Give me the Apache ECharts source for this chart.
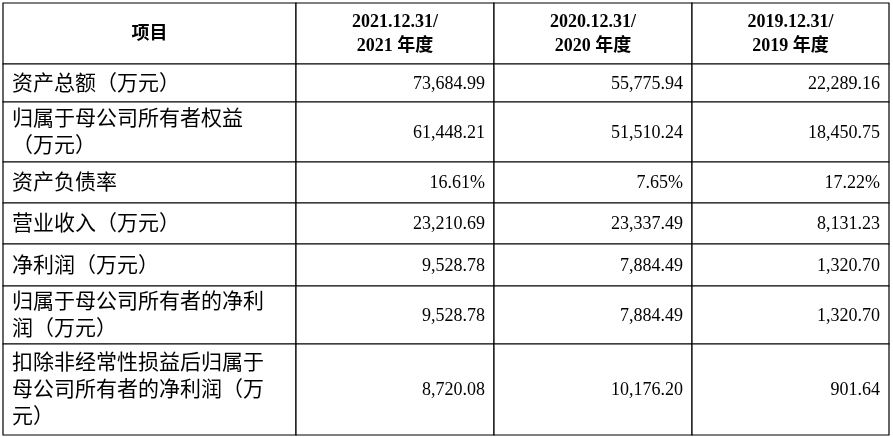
<!DOCTYPE html>
<html><head><meta charset="utf-8">
<script src="https://cdn.jsdelivr.net/npm/echarts@6/dist/echarts.min.js"></script>
<style>html,body{margin:0;padding:0;background:#fff}#c{width:893px;height:437px}</style>
</head><body><div id="c"></div>
<script>
const headers = ["项目", "2021.12.31/\n2021 年度", "2020.12.31/\n2020 年度", "2019.12.31/\n2019 年度"];
const rowLabels = [
  "资产总额（万元）",
  "归属于母公司所有者权益\n（万元）",
  "资产负债率",
  "营业收入（万元）",
  "净利润（万元）",
  "归属于母公司所有者的净利\n润（万元）",
  "扣除非经常性损益后归属于\n母公司所有者的净利润（万\n元）"
];
const v2021 = ["73,684.99", "61,448.21", "16.61%", "23,210.69", "9,528.78", "9,528.78", "8,720.08"];
const v2020 = ["55,775.94", "51,510.24", "7.65%", "23,337.49", "7,884.49", "7,884.49", "10,176.20"];
const v2019 = ["22,289.16", "18,450.75", "17.22%", "8,131.23", "1,320.70", "1,320.70", "901.64"];

// layout (not data)
const colEdges = [3, 296, 494, 692, 889];
const rowEdges = [3, 64, 102, 162, 203, 244, 286, 344, 435];

const cells = [];
headers.forEach((h, c) => cells.push([c, 0, h, 1]));
rowLabels.forEach((l, r) => {
  cells.push([0, r + 1, l, 0]);
  cells.push([1, r + 1, v2021[r], 0]);
  cells.push([2, r + 1, v2020[r], 0]);
  cells.push([3, r + 1, v2019[r], 0]);
});

const chart = echarts.init(document.getElementById('c'), null, {renderer: 'canvas'});
chart.setOption({
  animation: false,
  grid: {left: 0, right: 0, top: 0, bottom: 0},
  xAxis: {type: 'value', min: 0, max: 893, show: false},
  yAxis: {type: 'value', min: 0, max: 437, inverse: true, show: false},
  series: [{
    type: 'custom',
    coordinateSystem: 'cartesian2d',
    data: cells,
    encode: {x: 0, y: 1},
    renderItem: function (params, api) {
      const c = api.value(0), r = api.value(1);
      const d = cells[params.dataIndex];
      const p0 = api.coord([colEdges[c], rowEdges[r]]);
      const p1 = api.coord([colEdges[c + 1], rowEdges[r + 1]]);
      const header = d[3] === 1;
      const isNum = c > 0 && !header;
      let font, lh;
      if (header) { font = 'bold 18px "Liberation Serif", "Noto Sans CJK SC", serif'; lh = 24; }
      else if (isNum) { font = '18px "Liberation Serif", serif'; lh = 26; }
      else { font = '21px "Liberation Serif", "Noto Sans CJK SC", serif'; lh = 27; }
      let tx, align;
      if (header) { tx = (p0[0] + p1[0]) / 2; align = 'center'; }
      else if (isNum) { tx = p1[0] - 9; align = 'right'; }
      else { tx = p0[0] + 9; align = 'left'; }
      return {
        type: 'group',
        children: [
          {type: 'rect', shape: {x: p0[0], y: p0[1], width: p1[0] - p0[0], height: p1[1] - p0[1]},
           style: {fill: '#fff', stroke: '#000', lineWidth: 1.2}},
          {type: 'text', style: {text: d[2], x: tx, y: (p0[1] + p1[1]) / 2 + 1,
            align: align, verticalAlign: 'middle', font: font, fill: '#000', lineHeight: lh}}
        ]
      };
    }
  }]
});
</script></body></html>
